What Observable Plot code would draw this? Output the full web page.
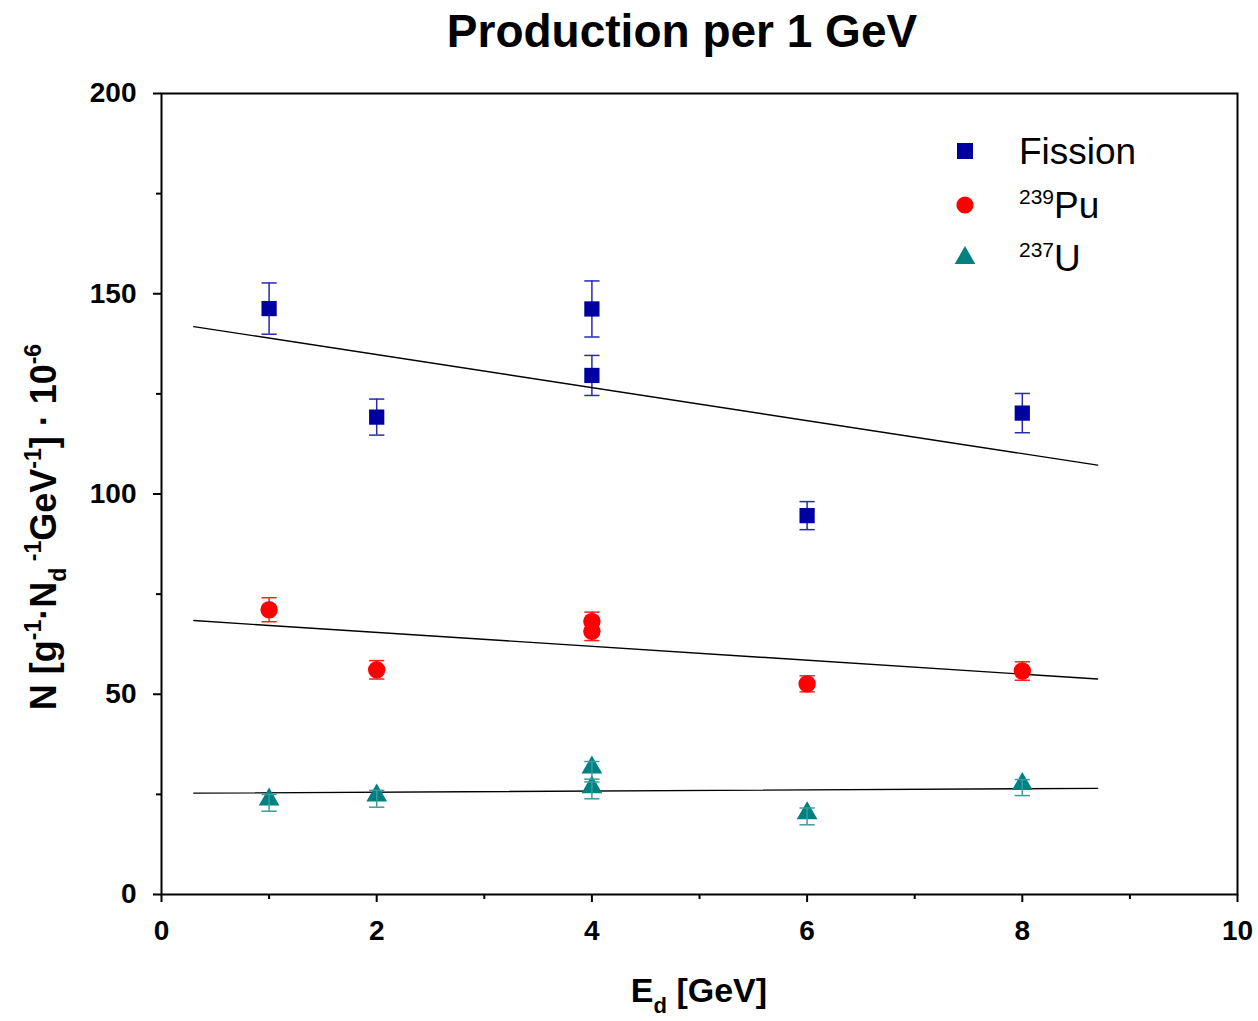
<!DOCTYPE html>
<html><head><meta charset="utf-8">
<script src="https://cdn.jsdelivr.net/npm/d3@7"></script>
<script src="https://cdn.jsdelivr.net/npm/@observablehq/plot@0.6"></script>
<style>
body{margin:0;background:#fff;font-family:Arial,"Liberation Sans",sans-serif;}
#title{position:relative;height:60px;width:1258px;}
#title span{position:absolute;left:682px;top:8px;transform:translateX(-50%);font-weight:bold;font-size:46px;line-height:46px;white-space:nowrap;color:#000;}
#chart svg{display:block;}
</style></head><body>
<div id="title"><span>Production per 1 GeV</span></div>
<div id="chart"></div>
<script>
// ---- data ----
const energies     = [1, 2, 4, 4, 6, 8];
const fission      = [146.3, 119.2, 146.2, 129.6, 94.6, 120.2];
const fissionErrLo = [6.4, 4.5, 7.0, 5.0, 3.5, 4.9];
const fissionErrHi = [6.4, 4.5, 7.0, 5.0, 3.5, 4.9];
const pu239        = [71.1, 56.1, 68.2, 65.7, 52.6, 55.8];
const pu239ErrLo   = [3.0, 2.3, 2.3, 2.3, 2.0, 2.3];
const pu239ErrHi   = [3.0, 2.3, 2.3, 2.3, 2.0, 2.3];
const u237         = [23.7, 24.7, 31.7, 26.8, 20.3, 27.6];
const u237ErrLo    = [2.9, 2.9, 2.9, 2.9, 2.9, 2.9];
const u237ErrHi    = [1.3, 1.3, 1.5, 1.3, 1.3, 1.1];
const fitX       = [0.3, 8.7];
const fissionFit = [141.8, 107.2];
const pu239Fit   = [68.4, 53.8];
const u237Fit    = [25.3, 26.5];
const xMajor = [0, 2, 4, 6, 8, 10];
const xMinor = [1, 3, 5, 7, 9];
const yMajor = [0, 50, 100, 150, 200];
const yMinor = [25, 75, 125, 175];

const series = [
  {name: "Fission", vals: fission, lo: fissionErrLo, hi: fissionErrHi, fit: fissionFit, color: "#0000A0", barColor: "#2828B4", symbol: "square", r: 8.6, barsOnTop: false},
  {name: "239Pu", vals: pu239, lo: pu239ErrLo, hi: pu239ErrHi, fit: pu239Fit, color: "#FF0000", barColor: "#FF2020", symbol: "circle", r: 8.7, barsOnTop: false},
  {name: "237U", vals: u237, lo: u237ErrLo, hi: u237ErrHi, fit: u237Fit, color: "#008080", barColor: "#3A9C9C", symbol: "triangle", r: 7.7, barsOnTop: true}
];
const points = series.flatMap(s => energies.map((x, i) => ({s: s.name, x, y: s.vals[i], lo: s.vals[i] - s.lo[i], hi: s.vals[i] + s.hi[i], color: s.color, barColor: s.barColor})));
const fits = series.flatMap(s => fitX.map((x, i) => ({s: s.name, x, y: s.fit[i]})));

const hline = {draw(ctx, size) { const w = Math.sqrt(size); ctx.moveTo(-w, 0); ctx.lineTo(w, 0); }};
const bars = (data) => [
  Plot.ruleX(data, {x: "x", y1: "lo", y2: "hi", stroke: "barColor", strokeWidth: 1.5}),
  Plot.dot(data, {x: "x", y: "lo", symbol: hline, r: 4.3, stroke: "barColor", strokeWidth: 1.5}),
  Plot.dot(data, {x: "x", y: "hi", symbol: hline, r: 4.3, stroke: "barColor", strokeWidth: 1.5})
];

const marks = [];
for (const s of series) if (!s.barsOnTop) marks.push(...bars(points.filter(p => p.s === s.name)));
marks.push(Plot.line(fits, {x: "x", y: "y", z: "s", stroke: "#000", strokeWidth: 1.4}));
for (const s of series) {
  marks.push(Plot.dot(points.filter(p => p.s === s.name), {x: "x", y: "y", symbol: s.symbol, r: s.r, fill: s.color, stroke: "none"}));
}
for (const s of series) if (s.barsOnTop) marks.push(...bars(points.filter(p => p.s === s.name)));
marks.push(
  Plot.axisX(xMajor, {tickSize: 8, tickPadding: 18, fontSize: 28, fontWeight: "bold", strokeWidth: 2, label: null}),
  Plot.axisX(xMinor, {tickSize: 5, tickFormat: () => "", strokeWidth: 2, label: null}),
  Plot.axisY(yMajor, {tickSize: 8, tickPadding: 17, fontSize: 28, fontWeight: "bold", strokeWidth: 2, label: null}),
  Plot.axisY(yMinor, {tickSize: 5, tickFormat: () => "", strokeWidth: 2, label: null}),
  Plot.frame({stroke: "#000", strokeWidth: 2})
);

const chart = Plot.plot({
  width: 1258, height: 961,
  marginTop: 33, marginBottom: 127, marginLeft: 161, marginRight: 21,
  x: {domain: [0, 10]},
  y: {domain: [0, 200]},
  style: {fontFamily: "Arial, 'Liberation Sans', sans-serif", color: "#000", background: "#fff"},
  marks
});
document.getElementById("chart").appendChild(chart);

const svg = d3.select(chart);
const FONT = "Arial, 'Liberation Sans', sans-serif";

// x axis label
const xl = svg.append("text").attr("x", 699).attr("y", 942).attr("text-anchor", "middle")
  .style("font-family", FONT).style("font-weight", "bold").style("font-size", "34px").attr("fill", "#000");
xl.append("tspan").text("E");
xl.append("tspan").attr("dy", 11).style("font-size", "22px").text("d");
xl.append("tspan").attr("dy", -11).text(" [GeV]");

// y axis label
const yl = svg.append("text").attr("transform", "translate(56,467) rotate(-90)").attr("text-anchor", "middle")
  .style("font-family", FONT).style("font-weight", "bold").style("font-size", "36px").attr("fill", "#000");
const parts = [["N [g", 0, 36], ["-1", -1, 23], ["·N", 0, 36], ["d", 1, 23], [" -1", -1, 23], ["GeV", 0, 36], ["-1", -1, 23], ["] · 10", 0, 36], ["-6", -1, 23]];
let level = 0;
const off = {"-1": -15, "0": 0, "1": 10};
for (const [t, lv, fs] of parts) {
  const dy = off[lv] - off[level];
  level = lv;
  yl.append("tspan").attr("dy", dy).style("font-size", fs + "px").text(t);
}

// legend
const lg = svg.append("g");
const legendItems = [
  {sym: d3.symbolSquare, size: 16 * 16, color: "#0000A0", y: 91, main: "Fission", sup: ""},
  {sym: d3.symbolCircle, size: Math.PI * 8.6 * 8.6, color: "#FF0000", y: 145, main: "Pu", sup: "239"},
  {sym: d3.symbolTriangle, size: 185, color: "#008080", y: 198, main: "U", sup: "237"}
];
for (const it of legendItems) {
  lg.append("path").attr("d", d3.symbol(it.sym, it.size)()).attr("transform", `translate(965,${it.y})`).attr("fill", it.color);
  const t = lg.append("text").attr("x", 1019).attr("y", it.y + 13).attr("text-anchor", "start")
    .style("font-family", FONT).style("font-size", "37px").attr("fill", "#000");
  if (it.sup) {
    t.append("tspan").attr("dy", -14).style("font-size", "21px").text(it.sup);
    t.append("tspan").attr("dy", 14).text(it.main);
  } else {
    t.append("tspan").text(it.main);
  }
}
</script>
</body></html>
